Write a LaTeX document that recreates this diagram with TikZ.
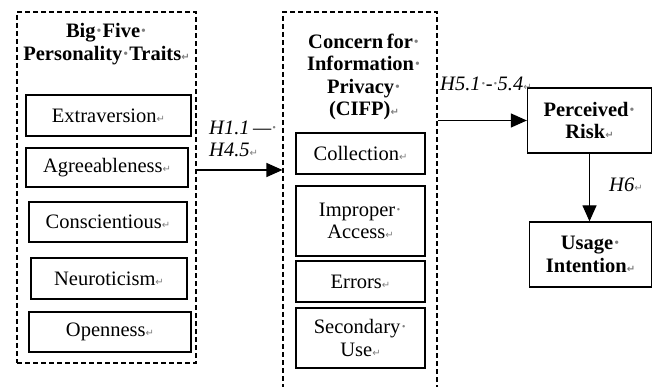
\documentclass[tikz,border=0pt]{standalone}
\usepackage{fontspec}
\setmainfont{Liberation Serif}
\newfontfamily\symf{DejaVu Sans}
\usetikzlibrary{arrows.meta}
\newcommand\rmk{{\symf\color{gray}\fontsize{10}{10}\selectfont ↵}}
\newcommand\sdt{{\color{gray}·}}
\tikzset{
  grp/.style={draw, line width=1.1pt, dash pattern=on 5pt off 3pt, inner sep=0pt},
  itm/.style={draw, line width=1.3pt, inner sep=0pt, align=center, font=\fontsize{20.5}{22.5}\selectfont},
  ttl/.style={align=center, inner sep=0pt, font=\fontsize{20.5}{22.5}\selectfont\bfseries},
  hyp/.style={align=left, inner sep=0pt, font=\fontsize{20.5}{22.5}\selectfont\itshape},
  arr/.style={line width=1.3pt, -{Triangle[length=16pt,width=14pt]}}
}
\begin{document}
\begin{tikzpicture}[x=1pt,y=-1pt]
\useasboundingbox (0,0) rectangle (653,387);
% left group
\node[grp, minimum width=179pt, minimum height=351pt] (big) at (106.5,187.5) {};
\node[ttl] (bigt) at (106.5,44) {Big\sdt Five\sdt\\Personality\sdt Traits\rmk};
\node[itm, minimum width=165pt, minimum height=41pt] (ext) at (108.5,115.5) {Extraversion\rmk};
\node[itm, minimum width=162pt, minimum height=39pt] (agr) at (107,167.5) {Agreeableness\rmk};
\node[itm, minimum width=158pt, minimum height=40pt] (con) at (108,222) {Conscientious\rmk};
\node[itm, minimum width=156pt, minimum height=41pt] (neu) at (109,278.5) {Neuroticism\rmk};
\node[itm, minimum width=162pt, minimum height=40pt] (ope) at (110,332) {Openness\rmk};
% middle group
\node[grp, minimum width=154pt, minimum height=376pt] (cifp) at (360,200) {};
\node[ttl] (cifpt) at (364,77) {Concern\,for\sdt\\Information\sdt\\Privacy\sdt\\(CIFP)\rmk};
\node[itm, minimum width=129pt, minimum height=41pt] (col) at (360.5,153.5) {Collection\rmk};
\node[itm, minimum width=129pt, minimum height=70pt] (imp) at (360.5,221) {Improper\sdt\\Access\rmk};
\node[itm, minimum width=129pt, minimum height=41pt] (err) at (360.5,281.5) {Errors\rmk};
\node[itm, minimum width=129pt, minimum height=60pt] (sec) at (360.5,338) {Secondary\sdt\\Use\rmk};
% right
\node[itm, font=\fontsize{20.5}{22.5}\selectfont\bfseries, minimum width=124pt, minimum height=65pt] (pr) at (589.5,120.5) {Perceived\sdt\\Risk\rmk};
\node[itm, font=\fontsize{20.5}{22.5}\selectfont\bfseries, minimum width=122pt, minimum height=65pt] (ui) at (590.5,254.5) {Usage\sdt\\Intention\rmk};
% arrows
\coordinate (h1y) at (0,170);
\draw[arr] (big.east |- h1y) -- (cifp.west |- h1y);
\draw[arr] (cifp.east |- pr.west) -- (pr.west);
\draw[arr] (pr.south) -- (pr.south |- ui.north);
% labels
\node[hyp, anchor=west] (l1) at (209,139) {H1.1\,—\sdt\\H4.5\rmk};
\node[hyp, anchor=west] (l2) at (440,84) {H5.1\sdt-\sdt5.4\rmk};
\node[hyp, anchor=west] (l3) at (609,185) {H6\rmk};
\end{tikzpicture}
\end{document}
